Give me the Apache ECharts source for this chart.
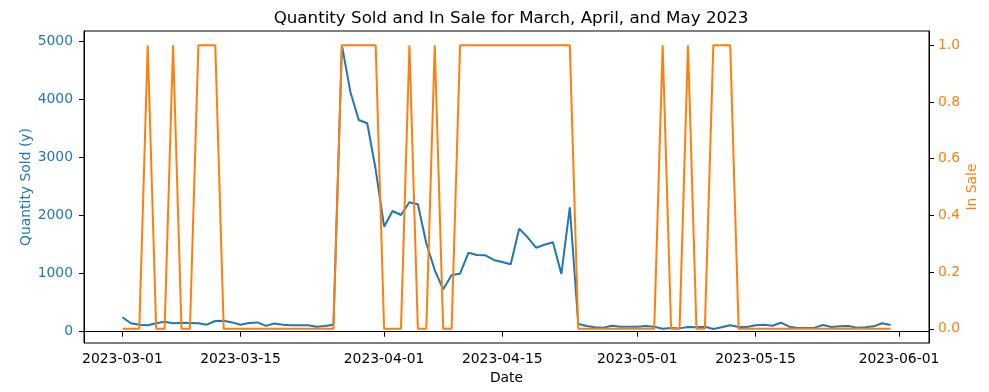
<!DOCTYPE html>
<html>
<head>
<meta charset="utf-8">
<script src="https://cdn.jsdelivr.net/npm/echarts@6/dist/echarts.min.js"></script>
<style>html,body{margin:0;padding:0;background:#fff}#c{width:989px;height:392px}</style>
</head>
<body>
<div id="c"></div>
<script>
const startDate = '2023-03-01';
const dayCount = 92;
const quantitySold = [248,145,121,110,145,172,145,155,150,145,121,184,190,160,121,150,160,100,140,121,110,110,110,86,100,121,
  4940,4138,3650,3593,2800,1810,2081,2012,2231,2196,1524,1063,731,978,1000,1362,1322,1316,1236,1202,1162,1776,1627,1448,1500,1541,995,2145,
  133,98,75,70,103,86,86,86,98,86,52,63,57,81,75,86,46,75,110,81,81,110,121,103,155,86,63,63,70,115,81,92,98,70,75,92,145,115];
const inSale = [0,0,0,1,0,0,1,0,0,1,1,1,0,0,0,0,0,0,0,0,0,0,0,0,0,0,
  1,1,1,1,1,0,0,0,1,0,0,1,0,0,1,1,1,1,1,1,1,1,1,1,1,1,1,1,
  0,0,0,0,0,0,0,0,0,0,1,0,0,1,0,0,1,1,1,0,0,0,0,0,0,0,0,0,0,0,0,0,0,0,0,0,0,0];
const xTickLabels = ['2023-03-01','2023-03-15','2023-04-01','2023-04-15','2023-05-01','2023-05-15','2023-06-01'];
const leftTicks = [0,1000,2000,3000,4000,5000];
const rightTicks = [0,0.2,0.4,0.6,0.8,1.0];

const DAY = 86400000;
function parseUTC(s){const p=s.split('-').map(Number);return Date.UTC(p[0],p[1]-1,p[2]);}
function fmt(t){const d=new Date(t);const p=n=>String(n).padStart(2,'0');return d.getUTCFullYear()+'-'+p(d.getUTCMonth()+1)+'-'+p(d.getUTCDate());}
const t0 = parseUTC(startDate);
const dates = [];
for(let i=0;i<dayCount;i++) dates.push(t0+i*DAY);
const xTicks = xTickLabels.map(parseUTC);
const span = dates[dates.length-1]-dates[0];

const FONT = 'DejaVu Sans';
const BLUE = '#1f77b4', ORANGE = '#ff7f0e';
const chart = echarts.init(document.getElementById('c'), null, {renderer:'canvas'});
chart.setOption({
  animation:false,
  backgroundColor:'#fff',
  title:{text:'Quantity Sold and In Sale for March, April, and May 2023', left:506, top:5, textAlign:'center',
    textStyle:{fontFamily:FONT,fontSize:16.7,fontWeight:'normal',color:'#000'}},
  grid:{left:84,right:60,top:31,bottom:49,show:true,borderColor:'#000',borderWidth:1,backgroundColor:'transparent'},
  xAxis:{type:'value', min:dates[0]-span*0.05, max:dates[dates.length-1]+span*0.05,
    name:'Date', nameLocation:'middle', nameGap:28, nameMoveOverlap:false,
    nameTextStyle:{fontFamily:FONT,fontSize:13.9,color:'#000'},
    axisLine:{show:true,lineStyle:{color:'#000',width:1}},
    axisTick:{show:true,length:5,lineStyle:{color:'#000'},customValues:xTicks},
    axisLabel:{fontFamily:FONT,fontSize:13.9,color:'#000',margin:9,customValues:xTicks,formatter:v=>fmt(v)},
    splitLine:{show:false}},
  yAxis:[
    {type:'value', position:'left', min:-195, max:5184,
      name:'Quantity Sold (y)', nameLocation:'middle', nameGap:51, nameMoveOverlap:false,
      nameTextStyle:{fontFamily:FONT,fontSize:13.9,color:BLUE},
      axisLine:{show:true,lineStyle:{color:'#000',width:1}},
      axisTick:{show:true,length:5,lineStyle:{color:'#000'},customValues:leftTicks},
      axisLabel:{fontFamily:FONT,fontSize:13.9,color:BLUE,margin:11,customValues:leftTicks,formatter:v=>String(v)},
      splitLine:{show:false}},
    {type:'value', position:'right', min:-0.05, max:1.05,
      name:'In Sale', nameLocation:'middle', nameGap:36, nameMoveOverlap:false,
      nameTextStyle:{fontFamily:FONT,fontSize:13.9,color:ORANGE},
      axisLine:{show:true,lineStyle:{color:'#000',width:1}},
      axisTick:{show:true,length:5,lineStyle:{color:'#000'},customValues:rightTicks},
      axisLabel:{fontFamily:FONT,fontSize:13.9,color:ORANGE,margin:9,customValues:rightTicks,formatter:v=>v.toFixed(1)},
      splitLine:{show:false}}
  ],
  series:[
    {type:'line', yAxisIndex:0, data:dates.map((t,i)=>[t,quantitySold[i]]), showSymbol:false,
      lineStyle:{color:BLUE,width:2}, itemStyle:{color:BLUE}, z:2},
    {type:'line', yAxisIndex:1, data:dates.map((t,i)=>[t,inSale[i]]), showSymbol:false,
      lineStyle:{color:ORANGE,width:2}, itemStyle:{color:ORANGE}, z:3}
  ]
});
</script>
</body>
</html>
